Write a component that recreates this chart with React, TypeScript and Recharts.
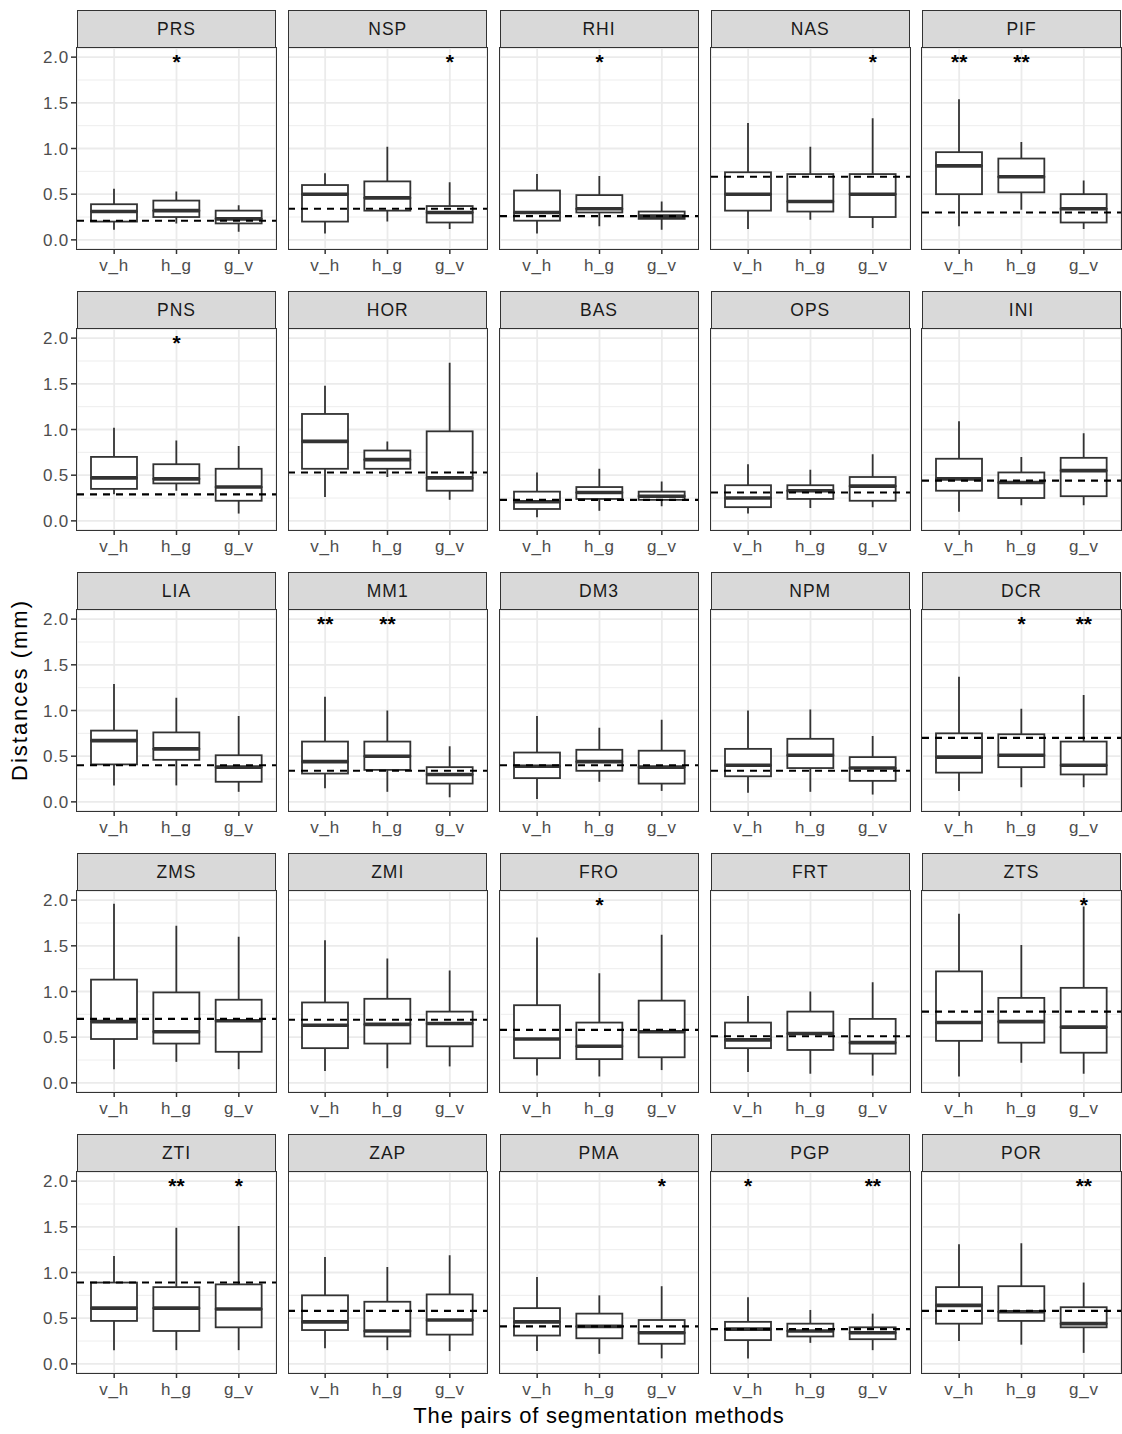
import React from "react";
import {
  ComposedChart,
  Bar,
  Scatter,
  XAxis,
  YAxis,
  CartesianGrid,
  ReferenceLine,
} from "recharts";

// Facet boxplots: distances between segmentation methods per landmark.
// Each box is a stack of bars (invisible base, low whisker, lower box,
// upper box, high whisker) so everything goes through the y scale.

const panels = [
  "PRS", "NSP", "RHI", "NAS", "PIF",
  "PNS", "HOR", "BAS", "OPS", "INI",
  "LIA", "MM1", "DM3", "NPM", "DCR",
  "ZMS", "ZMI", "FRO", "FRT", "ZTS",
  "ZTI", "ZAP", "PMA", "PGP", "POR",
];
const methods = ["v_h", "h_g", "g_v"];

// one triple per panel, in methods order
const lows = [
  [0.11, 0.18, 0.09], [0.07, 0.2, 0.12], [0.07, 0.15, 0.11], [0.12, 0.22, 0.13], [0.15, 0.33, 0.12],
  [0.29, 0.33, 0.08], [0.26, 0.48, 0.23], [0.04, 0.11, 0.16], [0.08, 0.14, 0.15], [0.1, 0.17, 0.17],
  [0.18, 0.18, 0.11], [0.15, 0.11, 0.05], [0.03, 0.22, 0.12], [0.1, 0.11, 0.08], [0.12, 0.16, 0.16],
  [0.15, 0.23, 0.15], [0.13, 0.16, 0.18], [0.08, 0.07, 0.14], [0.12, 0.1, 0.08], [0.07, 0.22, 0.1],
  [0.15, 0.15, 0.15], [0.17, 0.15, 0.14], [0.14, 0.11, 0.06], [0.06, 0.23, 0.15], [0.25, 0.21, 0.12],
];
const q1s = [
  [0.2, 0.25, 0.18], [0.2, 0.32, 0.19], [0.21, 0.3, 0.23], [0.32, 0.31, 0.25], [0.5, 0.52, 0.19],
  [0.35, 0.41, 0.22], [0.57, 0.57, 0.33], [0.13, 0.24, 0.23], [0.15, 0.24, 0.22], [0.33, 0.25, 0.27],
  [0.41, 0.46, 0.22], [0.31, 0.35, 0.2], [0.26, 0.34, 0.2], [0.28, 0.37, 0.23], [0.32, 0.38, 0.3],
  [0.48, 0.43, 0.34], [0.38, 0.43, 0.4], [0.27, 0.26, 0.28], [0.38, 0.36, 0.32], [0.46, 0.44, 0.33],
  [0.47, 0.36, 0.4], [0.37, 0.3, 0.32], [0.31, 0.28, 0.22], [0.26, 0.3, 0.27], [0.44, 0.47, 0.4],
];
const medians = [
  [0.31, 0.32, 0.23], [0.5, 0.46, 0.3], [0.3, 0.34, 0.26], [0.5, 0.42, 0.5], [0.81, 0.69, 0.34],
  [0.47, 0.46, 0.37], [0.87, 0.67, 0.47], [0.21, 0.31, 0.27], [0.25, 0.33, 0.38], [0.46, 0.42, 0.55],
  [0.67, 0.58, 0.38], [0.44, 0.5, 0.3], [0.39, 0.44, 0.38], [0.4, 0.51, 0.37], [0.49, 0.51, 0.4],
  [0.67, 0.56, 0.68], [0.63, 0.64, 0.65], [0.48, 0.4, 0.56], [0.47, 0.54, 0.44], [0.66, 0.67, 0.61],
  [0.61, 0.61, 0.6], [0.46, 0.36, 0.48], [0.46, 0.41, 0.34], [0.38, 0.36, 0.34], [0.64, 0.57, 0.44],
];
const q3s = [
  [0.39, 0.43, 0.32], [0.6, 0.64, 0.37], [0.54, 0.49, 0.31], [0.74, 0.72, 0.72], [0.96, 0.89, 0.5],
  [0.7, 0.62, 0.57], [1.17, 0.77, 0.98], [0.32, 0.37, 0.32], [0.39, 0.39, 0.48], [0.68, 0.53, 0.69],
  [0.78, 0.76, 0.51], [0.66, 0.66, 0.38], [0.54, 0.57, 0.56], [0.58, 0.69, 0.49], [0.75, 0.74, 0.66],
  [1.13, 0.99, 0.91], [0.88, 0.92, 0.78], [0.85, 0.66, 0.9], [0.66, 0.78, 0.7], [1.22, 0.93, 1.04],
  [0.89, 0.84, 0.87], [0.75, 0.68, 0.76], [0.61, 0.55, 0.48], [0.46, 0.44, 0.4], [0.84, 0.85, 0.62],
];
const highs = [
  [0.56, 0.53, 0.38], [0.73, 1.02, 0.63], [0.72, 0.7, 0.42], [1.28, 1.02, 1.33], [1.54, 1.07, 0.65],
  [1.02, 0.88, 0.82], [1.48, 0.87, 1.73], [0.53, 0.57, 0.43], [0.62, 0.56, 0.73], [1.09, 0.7, 0.96],
  [1.29, 1.14, 0.94], [1.15, 1.0, 0.61], [0.94, 0.81, 0.9], [1.0, 1.01, 0.72], [1.37, 1.02, 1.17],
  [1.96, 1.72, 1.6], [1.56, 1.36, 1.23], [1.59, 1.2, 1.62], [0.95, 1.0, 1.1], [1.85, 1.51, 1.93],
  [1.18, 1.49, 1.51], [1.17, 1.06, 1.19], [0.95, 0.75, 0.85], [0.73, 0.59, 0.55], [1.31, 1.32, 0.89],
];
// dashed reference per panel
const refs = [
  0.21, 0.34, 0.26, 0.69, 0.3,
  0.29, 0.53, 0.23, 0.31, 0.44,
  0.4, 0.34, 0.4, 0.34, 0.7,
  0.7, 0.69, 0.58, 0.51, 0.78,
  0.89, 0.58, 0.41, 0.38, 0.58,
];
// significance marks drawn at y = 2.0
const marks = [
  ["", "*", ""], ["", "", "*"], ["", "*", ""], ["", "", "*"], ["**", "**", ""],
  ["", "*", ""], ["", "", ""], ["", "", ""], ["", "", ""], ["", "", ""],
  ["", "", ""], ["**", "**", ""], ["", "", ""], ["", "", ""], ["", "*", "**"],
  ["", "", ""], ["", "", ""], ["", "*", ""], ["", "", ""], ["", "", "*"],
  ["", "**", "*"], ["", "", ""], ["", "", "*"], ["*", "", "**"], ["", "", "**"],
];
const markLevel = 2.0;
const yTicks = [0, 0.5, 1, 1.5, 2];
const yMinor = [0.25, 0.75, 1.25, 1.75];

const FONT = '"Liberation Sans", Arial, Helvetica, sans-serif';
const INK = "#333333";
const GRID = "#EBEBEB";

// facet layout
const PLOT_W = 199;
const PLOT_H = 201;
const STRIP_H = 38;
const COL_X0 = 77;
const COL_STEP = 211.25;
const ROW_Y0 = 10;
const ROW_STEP = 281;
const Y_AXIS_W = 46;
const X_AXIS_H = 34;

function buildRows(p: number) {
  return methods.map((m, k) => ({
    method: m,
    base: lows[p][k],
    lowWhisker: q1s[p][k] - lows[p][k],
    lowBox: medians[p][k] - q1s[p][k],
    highBox: q3s[p][k] - medians[p][k],
    highWhisker: highs[p][k] - q3s[p][k],
    mark: marks[p][k],
    markY: marks[p][k] ? markLevel : null,
  }));
}

function Whisker(props: any) {
  const { x, y, width, height } = props;
  if (x == null || y == null || isNaN(y)) return <g />;
  const cx = x + width / 2;
  return (
    <line x1={cx} x2={cx} y1={y} y2={y + height} stroke={INK} strokeWidth={1.8} />
  );
}

function LowerBox(props: any) {
  const { x, y, width, height } = props;
  if (x == null || y == null || isNaN(y)) return <g />;
  return (
    <rect x={x} y={y} width={width} height={Math.max(height, 0)} fill="#fff" stroke={INK} strokeWidth={1.8} />
  );
}

// upper half of the box; its bottom edge is the median
function UpperBox(props: any) {
  const { x, y, width, height } = props;
  if (x == null || y == null || isNaN(y)) return <g />;
  return (
    <g>
      <rect x={x} y={y} width={width} height={Math.max(height, 0)} fill="#fff" stroke={INK} strokeWidth={1.8} />
      <line x1={x} x2={x + width} y1={y + height} y2={y + height} stroke={INK} strokeWidth={3.6} />
    </g>
  );
}

function Nothing() {
  return <g />;
}

function Stars(props: any) {
  const { cx, cy, payload } = props;
  if (!payload || !payload.mark || cx == null || cy == null || isNaN(cy)) return <g />;
  return (
    <text x={cx} y={cy + 12} textAnchor="middle" fontSize={21} fontWeight={700} fontFamily={FONT} fill="#000">
      {payload.mark}
    </text>
  );
}

function XTick(props: any) {
  const { x, y, payload } = props;
  return (
    <text x={x} y={y} dy={15} textAnchor="middle" fontSize={17} fontFamily={FONT} fill="#4D4D4D" letterSpacing={0.8}>
      {payload.value}
    </text>
  );
}

function YTick(props: any) {
  const { x, y, payload } = props;
  return (
    <text x={x} y={y} dy={6} textAnchor="end" fontSize={17} fontFamily={FONT} fill="#4D4D4D" letterSpacing={0.8}>
      {Number(payload.value).toFixed(1)}
    </text>
  );
}

function Panel({ index }: { index: number }) {
  const col = index % 5;
  const row = Math.floor(index / 5);
  const left = COL_X0 + col * COL_STEP;
  const stripTop = ROW_Y0 + row * ROW_STEP;
  const plotTop = stripTop + STRIP_H;
  const showY = col === 0;
  const data = buildRows(index);

  return (
    <>
      <div
        style={{
          position: "absolute",
          left,
          top: stripTop,
          width: PLOT_W,
          height: STRIP_H,
          boxSizing: "border-box",
          background: "#D9D9D9",
          border: `1.5px solid ${INK}`,
          display: "flex",
          alignItems: "center",
          justifyContent: "center",
          fontSize: 17.5,
          letterSpacing: 1,
          color: "#1A1A1A",
        }}
      >
        {panels[index]}
      </div>
      <div style={{ position: "absolute", left: showY ? left - Y_AXIS_W : left, top: plotTop }}>
        <ComposedChart
          width={PLOT_W + (showY ? Y_AXIS_W : 0)}
          height={PLOT_H + X_AXIS_H}
          data={data}
          margin={{ top: 0, right: 0, bottom: 0, left: 0 }}
        >
          <CartesianGrid stroke={GRID} strokeWidth={0.9} vertical={false} horizontalValues={yMinor} />
          <CartesianGrid stroke={GRID} strokeWidth={1.8} />
          <XAxis
            dataKey="method"
            padding={{ left: 6, right: 6 }}
            axisLine={false}
            tickLine={{ stroke: INK, strokeWidth: 1.5 }}
            tickSize={5}
            tickMargin={2}
            height={X_AXIS_H}
            interval={0}
            tick={<XTick />}
          />
          <YAxis
            hide={!showY}
            width={Y_AXIS_W}
            domain={[-0.1, 2.1]}
            allowDataOverflow
            ticks={yTicks}
            axisLine={false}
            tickLine={{ stroke: INK, strokeWidth: 1.5 }}
            tickSize={6}
            tickMargin={2}
            tick={<YTick />}
          />
          <Bar dataKey="base" stackId="box" barSize={46} shape={<Nothing />} isAnimationActive={false} />
          <Bar dataKey="lowWhisker" stackId="box" barSize={46} shape={<Whisker />} isAnimationActive={false} />
          <Bar dataKey="lowBox" stackId="box" barSize={46} shape={<LowerBox />} isAnimationActive={false} />
          <Bar dataKey="highBox" stackId="box" barSize={46} shape={<UpperBox />} isAnimationActive={false} />
          <Bar dataKey="highWhisker" stackId="box" barSize={46} shape={<Whisker />} isAnimationActive={false} />
          <ReferenceLine y={refs[index]} stroke="#000" strokeWidth={2.1} strokeDasharray="7 6" />
          <Scatter dataKey="markY" shape={<Stars />} isAnimationActive={false} />
        </ComposedChart>
      </div>
      <div
        style={{
          position: "absolute",
          left: left - 0.75,
          top: plotTop - 0.75,
          width: PLOT_W + 1.5,
          height: PLOT_H + 1.5,
          boxSizing: "border-box",
          border: `1.5px solid ${INK}`,
          pointerEvents: "none",
        }}
      />
    </>
  );
}

export default function App() {
  return (
    <div
      style={{
        position: "absolute",
        left: 0,
        top: 0,
        width: 1122,
        height: 1434,
        background: "#fff",
        fontFamily: FONT,
        overflow: "hidden",
      }}
    >
      {panels.map((name, i) => (
        <Panel key={name} index={i} />
      ))}
      <div
        style={{
          position: "absolute",
          left: 0,
          width: 1198,
          top: 1403,
          textAlign: "center",
          fontSize: 22,
          letterSpacing: 0.8,
          color: "#000",
          whiteSpace: "nowrap",
        }}
      >
        The pairs of segmentation methods
      </div>
      <div
        style={{
          position: "absolute",
          left: 20,
          top: 690,
          transform: "translate(-50%, -50%) rotate(-90deg)",
          fontSize: 22,
          letterSpacing: 2,
          color: "#000",
          whiteSpace: "nowrap",
        }}
      >
        Distances (mm)
      </div>
    </div>
  );
}
